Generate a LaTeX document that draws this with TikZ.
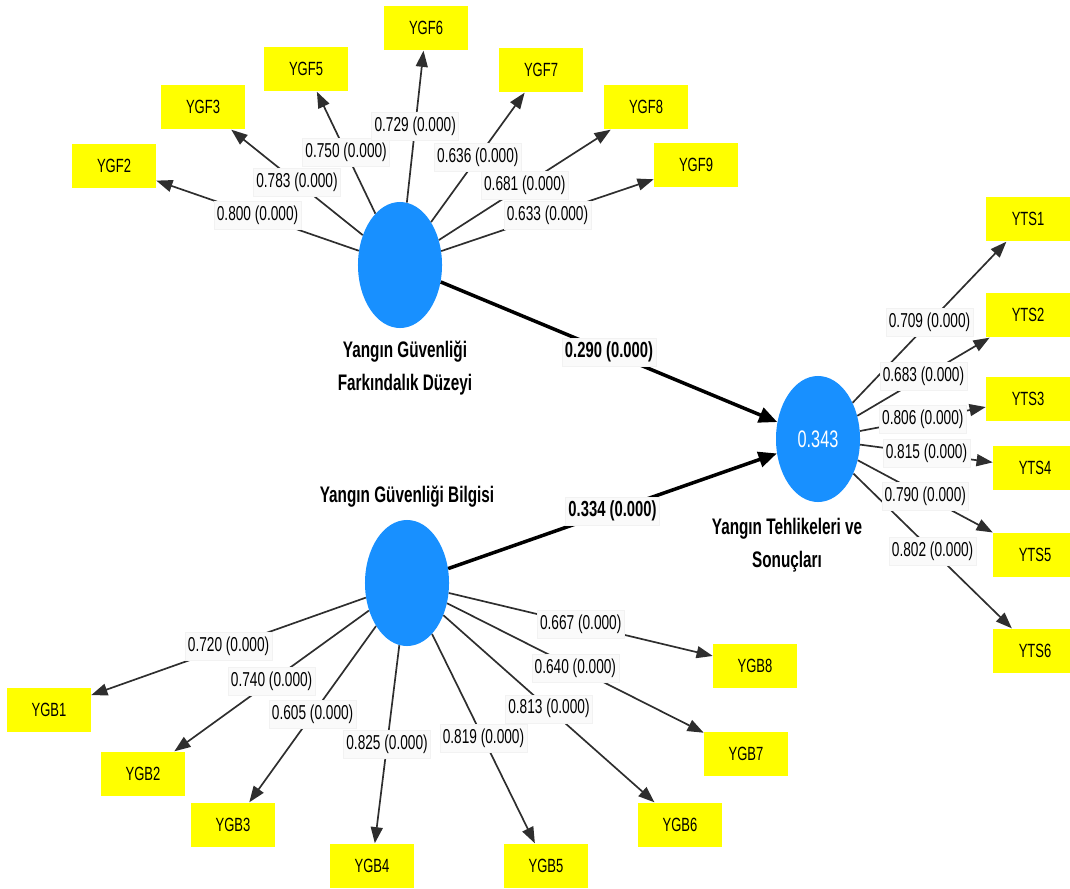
\documentclass[tikz,border=0pt]{standalone}
\usepackage{fontspec}
\newfontfamily\plsfont[FakeStretch=0.68]{Liberation Sans}
\usetikzlibrary{shapes.geometric}
\usetikzlibrary{arrows.meta}
\usetikzlibrary{positioning}
\definecolor{plsblue}{RGB}{24,144,255}
\definecolor{plsyellow}{RGB}{255,255,0}
\definecolor{lblfill}{RGB}{250,250,250}
\definecolor{lbledge}{RGB}{242,242,242}
\tikzset{
    latent/.style={ellipse, fill=plsblue, minimum width=2.1cm, minimum height=3.15cm, inner sep=0pt, text=white, font=\plsfont\fontsize{17}{19}\selectfont},
    indbox/.style={rectangle, fill=plsyellow, minimum width=2.1cm, minimum height=1.12cm, inner sep=0pt, font=\plsfont\fontsize{13.6}{15}\selectfont},
    latname/.style={align=center, font=\plsfont\bfseries\fontsize{16}{23.4}\selectfont},
    loading/.style={fill=lblfill, draw=lbledge, line width=0.4pt, inner xsep=2pt, inner ysep=0pt, minimum height=0.7cm, font=\plsfont\fontsize{14.3}{16}\selectfont},
    coef/.style={loading, font=\plsfont\bfseries\fontsize{15.5}{17}\selectfont},
    outer/.style={draw=black!82, line width=1.2pt, -{Triangle[length=11.5pt,width=8.5pt]}},
    struct/.style={draw=black, line width=2.5pt, -{Triangle[length=13pt,width=11pt]}}
}
\def\indicators{ygf2/114/166/YGF2, ygf3/203/107/YGF3, ygf5/306/69/YGF5, ygf6/426/28/YGF6, ygf7/541/70/YGF7, ygf8/646/107/YGF8, ygf9/696/165/YGF9, yts1/1028/219/YTS1, yts2/1028/315/YTS2, yts3/1028/399/YTS3, yts4/1035/468/YTS4, yts5/1035/555/YTS5, yts6/1035/651/YTS6, ygb1/49/710/YGB1, ygb2/143/774/YGB2, ygb3/233/825/YGB3, ygb4/372/866/YGB4, ygb5/546/866/YGB5, ygb6/680/825/YGB6, ygb7/746/754/YGB7, ygb8/755/666/YGB8}
\def\loadings{ygf/ygf2/0.800, ygf/ygf3/0.783, ygf/ygf5/0.750, ygf/ygf6/0.729, ygf/ygf7/0.636, ygf/ygf8/0.681, ygf/ygf9/0.633, yts/yts1/0.709, yts/yts2/0.683, yts/yts3/0.806, yts/yts4/0.815, yts/yts5/0.790, yts/yts6/0.802, ygb/ygb1/0.720, ygb/ygb2/0.740, ygb/ygb3/0.605, ygb/ygb4/0.825, ygb/ygb5/0.819, ygb/ygb6/0.813, ygb/ygb7/0.640, ygb/ygb8/0.667}

\begin{document}
\begin{tikzpicture}[x=0.025cm, y=-0.025cm]
\useasboundingbox (0,0) rectangle (1070,888);
% constructs
\node[latent] (ygf) at (400,265) {};
\node[latent] (ygb) at (407,583) {};
\node[latent] (yts) at (818,439) {0.343};
\node[latname] (ygfname) at (405,368) {Yangın Güvenliği\\Farkındalık Düzeyi};
\node[latname] (ygbname) at (407,497) {Yangın Güvenliği Bilgisi};
\node[latname] (ytsname) at (787,545) {Yangın Tehlikeleri ve\\Sonuçları};
% indicators
\foreach \n/\x/\y/\t in \indicators {
    \node[indbox] (\n) at (\x,\y) {\t};
}
% outer model
\foreach \lv/\n/\w in \loadings {
    \draw[outer] (\lv) -- (\n);
}
\foreach \lv/\n/\w in \loadings {
    \path (\lv) -- node[loading, midway] (l\n) {\w{} (0.000)} (\n);
}
% inner model
\draw[struct] (ygf) -- node[coef, midway] (cygf) {0.290 (0.000)} (yts);
\draw[struct] (ygb) -- node[coef, midway] (cygb) {0.334 (0.000)} (yts);
\end{tikzpicture}
\end{document}
